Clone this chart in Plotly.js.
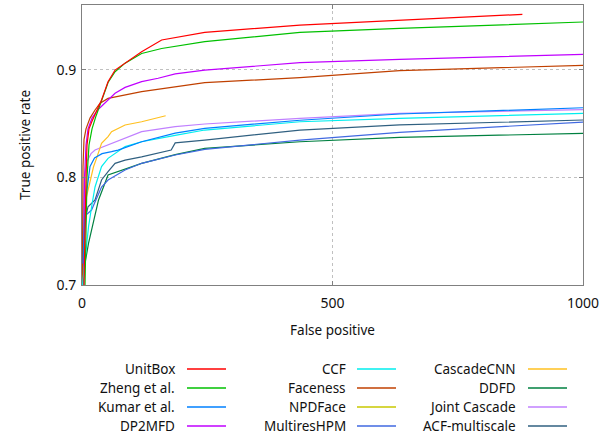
<!DOCTYPE html>
<html>
<head>
<meta charset="utf-8">
<script src="https://cdn.plot.ly/plotly-3.0.1.min.js"></script>
<style>html,body{margin:0;padding:0;background:#fff}#chart{width:612px;height:435px}</style>
</head>
<body>
<div id="chart"></div>
<script>
// ---- data (false positives, true positive rate) ----
const names = ["UnitBox","Zheng et al.","Kumar et al.","DP2MFD","CCF","Faceness","NPDFace","MultiresHPM","CascadeCNN","DDFD","Joint Cascade","ACF-multiscale"];
const colors = ["#ff0000","#00c000","#0080ff","#c000ff","#00eeee","#c04000","#c8c800","#4169e1","#ffc020","#008040","#c080ff","#306080"];

const unitboxX = [4,6,8,10,14,20,28,39,46,52,66,86,119,159,245,435,634,879];
const unitboxY = [0.70,0.76,0.80,0.83,0.845,0.852,0.86,0.8718,0.881,0.8888,0.8996,0.9058,0.9166,0.9275,0.9346,0.9414,0.946,0.9513];
const zhengX = [6,8,10,14,20,28,39,46,52,66,86,119,159,245,435,634,1000];
const zhengY = [0.70,0.75,0.80,0.83,0.845,0.857,0.87,0.88,0.888,0.898,0.906,0.915,0.9196,0.926,0.9346,0.9383,0.9442];
const kumarX = [2,5,9,16,25,40,59,72,119,186,245,435,634,1000];
const kumarY = [0.72,0.76,0.785,0.81,0.818,0.822,0.8238,0.8253,0.833,0.841,0.8455,0.853,0.8588,0.8646];
const dp2mfdX = [3,5,8,12,20,30,39,52,66,86,119,152,186,245,435,634,1000];
const dp2mfdY = [0.72,0.80,0.83,0.845,0.855,0.862,0.866,0.8718,0.878,0.8835,0.8888,0.892,0.896,0.8996,0.9064,0.9096,0.9142];
const ccfX = [1,6,13,20,26,39,52,86,119,186,245,435,634,1000];
const ccfY = [0.70,0.723,0.754,0.775,0.791,0.81,0.8176,0.8285,0.833,0.839,0.8439,0.8516,0.8548,0.8594];
const facenessX = [0,1,2,4,8,16,26,36,52,119,245,435,634,1000];
const facenessY = [0.70,0.72,0.81,0.835,0.845,0.855,0.8625,0.8687,0.8733,0.8795,0.888,0.8925,0.899,0.904];
const npdX = [0,1,2];
const npdY = [0.70,0.735,0.75];
const multiresX = [1,4,8,19,39,52,86,119,186,245,435,634,1000];
const multiresY = [0.70,0.74,0.765,0.7696,0.791,0.7975,0.8068,0.813,0.8207,0.826,0.8346,0.8418,0.8513];
const cascadeX = [1,3,8,16,23,29,39,52,59,86,119,167];
const cascadeY = [0.72,0.75,0.78,0.796,0.8098,0.8176,0.8316,0.8378,0.8424,0.8486,0.8516,0.8572];
const ddfdX = [2,6,13,23,33,52,86,119,186,245,435,634,1000];
const ddfdY = [0.70,0.72,0.7387,0.7604,0.779,0.8021,0.8075,0.813,0.821,0.8269,0.833,0.8371,0.8408];
const jointX = [2,5,10,18,26,52,86,119,186,245,435,634,1000];
const jointY = [0.75,0.80,0.815,0.822,0.8253,0.83,0.8362,0.8424,0.847,0.8495,0.8548,0.8594,0.8628];
const acfX = [1,3,6,12,26,39,52,66,86,119,178,186,245,435,634,1000];
const acfY = [0.70,0.74,0.76,0.7727,0.779,0.7975,0.8052,0.813,0.816,0.819,0.8253,0.832,0.8346,0.8439,0.8486,0.8532];

const xs = [unitboxX,zhengX,kumarX,dp2mfdX,ccfX,facenessX,npdX,multiresX,cascadeX,ddfdX,jointX,acfX];
const ys = [unitboxY,zhengY,kumarY,dp2mfdY,ccfY,facenessY,npdY,multiresY,cascadeY,ddfdY,jointY,acfY];

const xTicks = [0,500,1000];
const yTicks = [0.7,0.8,0.9];

// ---- layout ----
const W = 612, H = 435;
const M = {l:82, r:29, t:5, b:150};
const FONT = "Noto Sans, Open Sans, DejaVu Sans, sans-serif";

const traces = names.map((n,i)=>({
  x: xs[i], y: ys[i], name: n, type:'scatter', mode:'lines',
  line:{color:colors[i], width:1.2}, showlegend:false, hoverinfo:'skip'
})).reverse();

// manual legend (text left of line sample, 3 columns x 4 rows)
const pw = W - M.l - M.r, ph = H - M.t - M.b;
const px2x = px => (px - M.l)/pw;
const py2y = py => (H - M.b - py)/ph;
const colTextRight = [177, 348, 518];
const colLineStart = [187, 357, 528];
const lineLen = 39;
const rowY = [369, 388, 407, 426];
const annotations = [], shapes = [];
names.forEach((n,i)=>{
  const c = Math.floor(i/4), r = i%4;
  annotations.push({xref:'paper', yref:'paper', x:px2x(colTextRight[c]), y:py2y(rowY[r]),
    xanchor:'right', yanchor:'middle', text:n, showarrow:false,
    font:{family:FONT, size:13.5, color:'#111'}});
  shapes.push({type:'line', xref:'paper', yref:'paper',
    x0:px2x(colLineStart[c]), x1:px2x(colLineStart[c]+lineLen),
    y0:py2y(rowY[r]), y1:py2y(rowY[r]), line:{color:colors[i], width:1.3}});
});

const axisCommon = {
  showline:true, linecolor:'#808080', linewidth:1, mirror:'ticks',
  ticks:'inside', ticklen:4, tickcolor:'#808080',
  showgrid:true, gridcolor:'#c0c0c0', griddash:'dot', gridwidth:1,
  zeroline:false, tickfont:{family:FONT, size:14, color:'#111'}
};

const layout = {
  width:W, height:H, margin:M, paper_bgcolor:'#fff', plot_bgcolor:'#fff',
  font:{family:FONT, size:13.5, color:'#111'},
  xaxis: Object.assign({}, axisCommon, {range:[0,1000], tickvals:xTicks, ticktext:xTicks.map(String),
    ticklabelstandoff:5,
    title:{text:'False positive', font:{family:FONT, size:13.5}, standoff:14}}),
  yaxis: Object.assign({}, axisCommon, {range:[0.7,0.96], tickvals:yTicks, ticktext:yTicks.map(v=>v.toFixed(1)),
    ticklabelstandoff:2,
    title:{text:'True positive rate', font:{family:FONT, size:13.5}, standoff:22}}),
  annotations, shapes, showlegend:false
};

Plotly.newPlot('chart', traces, layout, {staticPlot:true, displayModeBar:false});
</script>
</body>
</html>
